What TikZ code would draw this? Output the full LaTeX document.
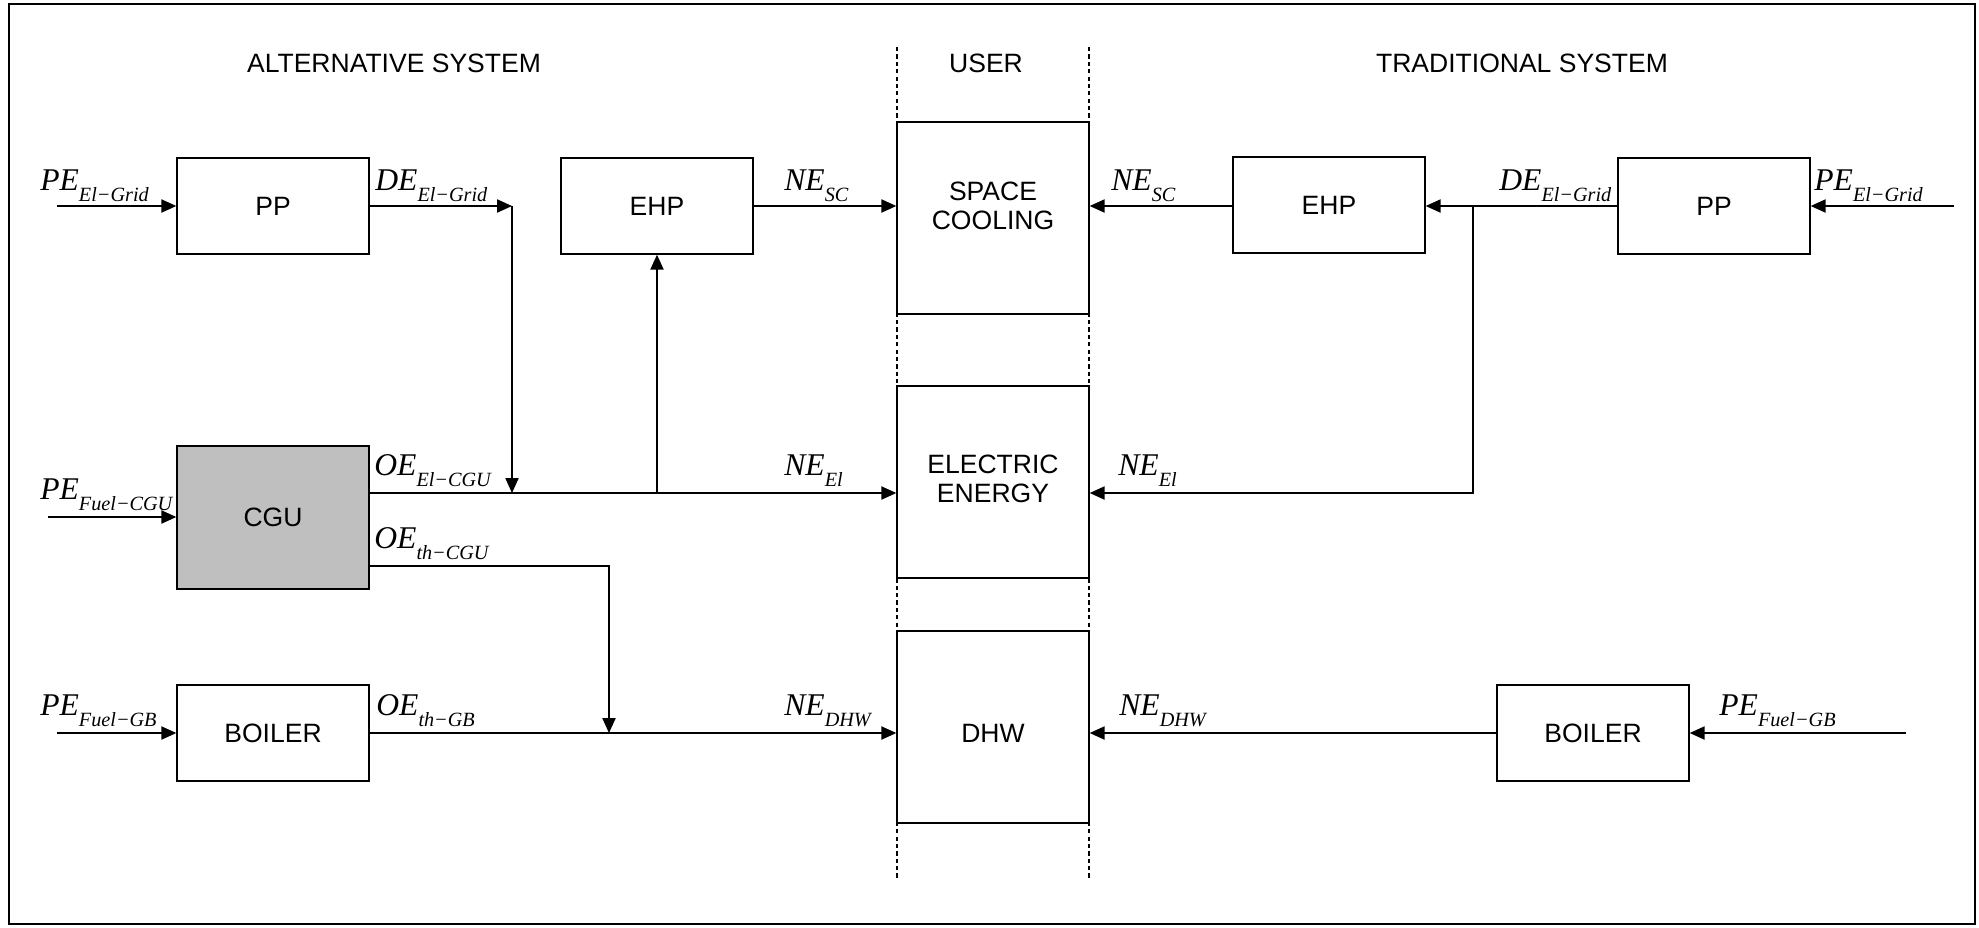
\documentclass[tikz,border=0pt]{standalone}
\usepackage{fontspec}
\setmainfont{Liberation Serif}
\setsansfont{Liberation Sans}
\usetikzlibrary{arrows.meta}
\newcommand{\flow}[2]{{\fontsize{18}{20}\selectfont #1}\raisebox{-6.5pt}{\fontsize{11.5}{12}\selectfont #2}}
\begin{document}
\begin{tikzpicture}[x=0.02cm,y=-0.02cm,line join=miter,>={Triangle[length=8.5pt,width=7.5pt]},
	blk/.style={draw,line width=0.8pt,fill=white,minimum width=3.84cm,minimum height=1.92cm,inner sep=0pt,font=\sffamily\fontsize{15.1}{16.6}\selectfont},
	ubox/.style={blk,minimum height=3.84cm},
	txt/.style={align=center,inner sep=0pt,font=\sffamily\fontsize{15.1}{16.6}\selectfont},
	lbl/.style={anchor=base west,inner sep=0pt,font=\itshape},
	flw/.style={->,line width=0.85pt}]
	\useasboundingbox (0,0) rectangle (1979,927);
	\draw[line width=1pt] (9,4) rectangle (1975,924);
	\foreach \x in {897,1089}{
		\draw[line width=1pt,dash pattern=on 2.4pt off 1.8pt] (\x,47) -- (\x,880);
	}
	\path
	(57,206) coordinate (inppa)
	(512,206) coordinate (dea)
	(512,493) coordinate (dedown)
	(369,493) coordinate (elout)
	(48,517) coordinate (incgu)
	(369,566) coordinate (thout)
	(609,733) coordinate (thdown)
	(57,733) coordinate (inboa)
	(1954,206) coordinate (inppb)
	(1473,206) coordinate (deb)
	(1473,493) coordinate (debdown)
	(1906,733) coordinate (inbob);
	\node[txt] (alt) at (394,63) {ALTERNATIVE SYSTEM};
	\node[txt] (user) at (986,63) {USER};
	\node[txt] (trad) at (1522,63) {TRADITIONAL SYSTEM};
	\node[ubox] (sc) at (993,218) {};
	\node[ubox] (ee) at (993,482) {};
	\node[ubox] (dhw) at (993,727) {};
	\node[txt] (sctxt) at (993,206) {SPACE\\COOLING};
	\node[txt] (eetxt) at (993,479) {ELECTRIC\\ENERGY};
	\node[txt] (dhwtxt) at (993,733) {DHW};
	\node[blk] (ppa) at (273,206) {PP};
	\node[blk] (ehpa) at (657,206) {EHP};
	\node[blk,fill=black!25,minimum height=2.86cm] (cgu) at (273,517.5) {CGU};
	\node[blk] (boa) at (273,733) {BOILER};
	\node[blk] (ehpb) at (1329,205) {EHP};
	\node[blk] (ppb) at (1714,206) {PP};
	\node[blk] (bob) at (1593,733) {BOILER};
	\draw[flw] (inppa) -- (ppa);
	\draw[flw] (ppa) -- (dea);
	\draw[flw] (dea) -- (dedown);
	\draw[flw] (elout) -- (elout -| ee.west);
	\draw[flw] (ehpa.south |- elout) -- (ehpa.south);
	\draw[flw] (ehpa) -- (ehpa -| sc.west);
	\draw[flw] (incgu) -- (incgu -| cgu.west);
	\draw[flw] (thout) -| (thdown);
	\draw[flw] (inboa) -- (boa);
	\draw[flw] (boa) -- (boa -| dhw.west);
	\draw[flw] (inppb) -- (ppb);
	\draw[flw] (ppb.west) -- (ppb.west -| ehpb.east);
	\draw[flw] (deb) -- (debdown) -- (debdown -| ee.east);
	\draw[flw] (ehpb.west |- ppb) -- (ppb -| sc.east);
	\draw[flw] (inbob) -- (bob);
	\draw[flw] (bob) -- (bob -| dhw.east);
	\node[lbl] (lpea) at (40,190) {\flow{PE}{El−Grid}};
	\node[lbl] (ldea) at (375,190) {\flow{DE}{El−Grid}};
	\node[lbl] (lnesca) at (784,190) {\flow{NE}{SC}};
	\node[lbl] (lnescb) at (1111,190) {\flow{NE}{SC}};
	\node[lbl] (ldeb) at (1499,190) {\flow{DE}{El−Grid}};
	\node[lbl] (lpeb) at (1814,190) {\flow{PE}{El−Grid}};
	\node[lbl] (loeel) at (374,475) {\flow{OE}{El−CGU}};
	\node[lbl] (lneela) at (784,475) {\flow{NE}{El}};
	\node[lbl] (lneelb) at (1118,475) {\flow{NE}{El}};
	\node[lbl] (lpecgu) at (40,499) {\flow{PE}{Fuel−CGU}};
	\node[lbl] (loeth) at (374,548) {\flow{OE}{th−CGU}};
	\node[lbl] (lpegba) at (40,715) {\flow{PE}{Fuel−GB}};
	\node[lbl] (loegb) at (376,715) {\flow{OE}{th−GB}};
	\node[lbl] (lnedhwa) at (784,715) {\flow{NE}{DHW}};
	\node[lbl] (lnedhwb) at (1119,715) {\flow{NE}{DHW}};
	\node[lbl] (lpegbb) at (1719,715) {\flow{PE}{Fuel−GB}};
\end{tikzpicture}
\end{document}
